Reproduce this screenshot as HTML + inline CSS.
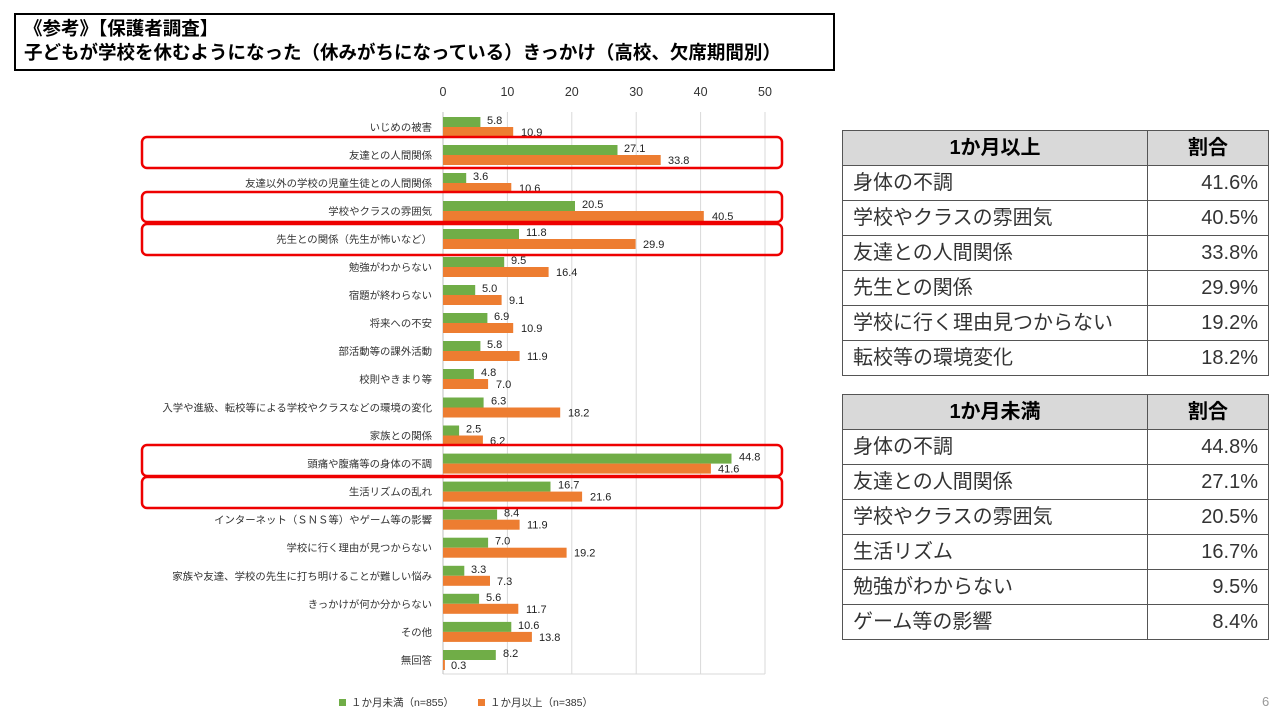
<!DOCTYPE html>
<html><head><meta charset="utf-8"><style>
body{margin:0;width:1280px;height:720px;background:#fff;position:relative;overflow:hidden;font-family:"Liberation Sans","Noto Sans CJK JP",sans-serif}
.title{position:absolute;left:14px;top:13px;width:821px;height:58px;border:2px solid #000;font-weight:bold;font-size:18.5px;line-height:24px;padding:2px 0 0 8px;box-sizing:border-box}
table{position:absolute;border-collapse:collapse;font-size:20px;color:#333}
td{border:1px solid #555;height:34px;line-height:34px;padding:0 10px;vertical-align:middle;white-space:nowrap;overflow:hidden}
td.h{background:#d9d9d9;font-weight:bold;text-align:center;color:#000}
td.r{text-align:right}
</style></head><body>
<div class="title">《参考》【保護者調査】<br>子どもが学校を休むようになった（休みがちになっている）きっかけ（高校、欠席期間別）</div>
<svg width="1280" height="720" style="position:absolute;left:0;top:0" font-family="Liberation Sans, Noto Sans CJK JP, sans-serif">
<g stroke="#d9d9d9" stroke-width="1">
<line x1="507.4" y1="112" x2="507.4" y2="674"/><line x1="571.8" y1="112" x2="571.8" y2="674"/><line x1="636.2" y1="112" x2="636.2" y2="674"/><line x1="700.6" y1="112" x2="700.6" y2="674"/><line x1="765" y1="112" x2="765" y2="674"/>
<line x1="443" y1="674" x2="765" y2="674"/>
</g>
<line x1="443" y1="112" x2="443" y2="674" stroke="#bfbfbf"/>
<g font-size="12.5" fill="#333" text-anchor="middle">
<text x="443" y="96">0</text><text x="507.4" y="96">10</text><text x="571.8" y="96">20</text><text x="636.2" y="96">30</text><text x="700.6" y="96">40</text><text x="765" y="96">50</text>
</g>
<g fill="#70ad47">
<rect x="443" y="117" width="37.4" height="10"/><rect x="443" y="145" width="174.5" height="10"/><rect x="443" y="173" width="23.2" height="10"/><rect x="443" y="201" width="132" height="10"/><rect x="443" y="229" width="76" height="10"/><rect x="443" y="257" width="61.2" height="10"/><rect x="443" y="285" width="32.2" height="10"/><rect x="443" y="313" width="44.4" height="10"/><rect x="443" y="341" width="37.4" height="10"/><rect x="443" y="369" width="30.9" height="10"/><rect x="443" y="397.5" width="40.6" height="10"/><rect x="443" y="425.5" width="16.1" height="10"/><rect x="443" y="453.6" width="288.5" height="10"/><rect x="443" y="481.6" width="107.5" height="10"/><rect x="443" y="509.7" width="54.1" height="10"/><rect x="443" y="537.7" width="45.1" height="10"/><rect x="443" y="565.8" width="21.3" height="10"/><rect x="443" y="593.8" width="36.1" height="10"/><rect x="443" y="621.9" width="68.3" height="10"/><rect x="443" y="650" width="52.8" height="10"/>
</g>
<g fill="#ed7d31">
<rect x="443" y="127" width="70.2" height="10"/><rect x="443" y="155" width="217.7" height="10"/><rect x="443" y="183" width="68.3" height="10"/><rect x="443" y="211" width="260.8" height="10"/><rect x="443" y="239" width="192.6" height="10"/><rect x="443" y="267" width="105.6" height="10"/><rect x="443" y="295" width="58.6" height="10"/><rect x="443" y="323" width="70.2" height="10"/><rect x="443" y="351" width="76.6" height="10"/><rect x="443" y="379" width="45.1" height="10"/><rect x="443" y="407.5" width="117.2" height="10"/><rect x="443" y="435.5" width="39.9" height="10"/><rect x="443" y="463.6" width="267.9" height="10"/><rect x="443" y="491.6" width="139.1" height="10"/><rect x="443" y="519.7" width="76.6" height="10"/><rect x="443" y="547.7" width="123.6" height="10"/><rect x="443" y="575.8" width="47" height="10"/><rect x="443" y="603.8" width="75.3" height="10"/><rect x="443" y="631.9" width="88.9" height="10"/><rect x="443" y="660" width="1.9" height="10"/>
</g>
<g font-size="10.4" fill="#333" text-anchor="end">
<text x="432" y="131">いじめの被害</text><text x="432" y="159">友達との人間関係</text><text x="432" y="187">友達以外の学校の児童生徒との人間関係</text><text x="432" y="215">学校やクラスの雰囲気</text><text x="432" y="243">先生との関係（先生が怖いなど）</text><text x="432" y="271">勉強がわからない</text><text x="432" y="299">宿題が終わらない</text><text x="432" y="327">将来への不安</text><text x="432" y="355">部活動等の課外活動</text><text x="432" y="383">校則やきまり等</text><text x="432" y="411.5">入学や進級、転校等による学校やクラスなどの環境の変化</text><text x="432" y="439.5">家族との関係</text><text x="432" y="467.6">頭痛や腹痛等の身体の不調</text><text x="432" y="495.6">生活リズムの乱れ</text><text x="432" y="523.7">インターネット（ＳＮＳ等）やゲーム等の影響</text><text x="432" y="551.7">学校に行く理由が見つからない</text><text x="432" y="579.8">家族や友達、学校の先生に打ち明けることが難しい悩み</text><text x="432" y="607.8">きっかけが何か分からない</text><text x="432" y="635.9">その他</text><text x="432" y="664">無回答</text>
</g>
<g font-size="11" fill="#222">
<text x="487" y="124">5.8</text><text x="521" y="136">10.9</text>
<text x="624" y="152">27.1</text><text x="668" y="164">33.8</text>
<text x="473" y="180">3.6</text><text x="519" y="192">10.6</text>
<text x="582" y="208">20.5</text><text x="712" y="220">40.5</text>
<text x="526" y="236">11.8</text><text x="643" y="248">29.9</text>
<text x="511" y="264">9.5</text><text x="556" y="276">16.4</text>
<text x="482" y="292">5.0</text><text x="509" y="304">9.1</text>
<text x="494" y="320">6.9</text><text x="521" y="332">10.9</text>
<text x="487" y="348">5.8</text><text x="527" y="360">11.9</text>
<text x="481" y="376">4.8</text><text x="496" y="388">7.0</text>
<text x="491" y="404.5">6.3</text><text x="568" y="416.5">18.2</text>
<text x="466" y="432.5">2.5</text><text x="490" y="444.5">6.2</text>
<text x="739" y="460.6">44.8</text><text x="718" y="472.6">41.6</text>
<text x="558" y="488.6">16.7</text><text x="590" y="500.6">21.6</text>
<text x="504" y="516.7">8.4</text><text x="527" y="528.7">11.9</text>
<text x="495" y="544.7">7.0</text><text x="574" y="556.7">19.2</text>
<text x="471" y="572.8">3.3</text><text x="497" y="584.8">7.3</text>
<text x="486" y="600.8">5.6</text><text x="526" y="612.8">11.7</text>
<text x="518" y="628.9">10.6</text><text x="539" y="640.9">13.8</text>
<text x="503" y="657">8.2</text><text x="451" y="669">0.3</text>
</g>
<g fill="none" stroke="#e00" stroke-width="2.5">
<rect x="142" y="137" width="640" height="31" rx="5"/>
<rect x="142" y="192" width="640" height="30" rx="5"/>
<rect x="142" y="224" width="640" height="31" rx="5"/>
<rect x="142" y="445" width="640" height="31" rx="5"/>
<rect x="142" y="477" width="640" height="31" rx="5"/>
</g>
<rect x="339" y="699" width="7" height="7" fill="#70ad47"/>
<text x="351" y="706" font-size="10.5" fill="#333">１か月未満（n=855）</text>
<rect x="478" y="699" width="7" height="7" fill="#ed7d31"/>
<text x="490" y="706" font-size="10.5" fill="#333">１か月以上（n=385）</text>
<text x="1262" y="706" font-size="13" fill="#999">6</text>
</svg>
<table style="left:842px;top:130px;width:427px">
<tr><td class="h">1か月以上</td><td class="h" style="width:100px">割合</td></tr>
<tr><td>身体の不調</td><td class="r">41.6%</td></tr>
<tr><td>学校やクラスの雰囲気</td><td class="r">40.5%</td></tr>
<tr><td>友達との人間関係</td><td class="r">33.8%</td></tr>
<tr><td>先生との関係</td><td class="r">29.9%</td></tr>
<tr><td>学校に行く理由見つからない</td><td class="r">19.2%</td></tr>
<tr><td>転校等の環境変化</td><td class="r">18.2%</td></tr>
</table>
<table style="left:842px;top:394px;width:427px">
<tr><td class="h">1か月未満</td><td class="h" style="width:100px">割合</td></tr>
<tr><td>身体の不調</td><td class="r">44.8%</td></tr>
<tr><td>友達との人間関係</td><td class="r">27.1%</td></tr>
<tr><td>学校やクラスの雰囲気</td><td class="r">20.5%</td></tr>
<tr><td>生活リズム</td><td class="r">16.7%</td></tr>
<tr><td>勉強がわからない</td><td class="r">9.5%</td></tr>
<tr><td>ゲーム等の影響</td><td class="r">8.4%</td></tr>
</table>
</body></html>
